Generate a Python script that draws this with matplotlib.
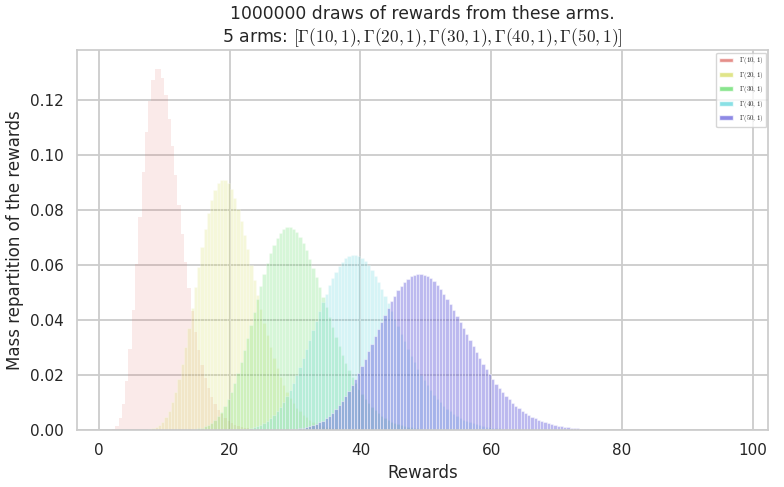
import numpy as np
import matplotlib
matplotlib.use("Agg")
import matplotlib.pyplot as plt
from matplotlib.patches import Patch
import seaborn as sns

# histogram heights (mass per unit reward), bins of width 0.5
BIN_WIDTH = 0.5
labels = [r"$\Gamma(10, 1)$", r"$\Gamma(20, 1)$", r"$\Gamma(30, 1)$",
          r"$\Gamma(40, 1)$", r"$\Gamma(50, 1)$"]
first_bins = [2.0, 7.5, 14.0, 21.5, 28.5]

red_heights = [
    0.00043, 0.00159, 0.00432, 0.00950, 0.01778, 0.02935, 0.04382, 0.06025,
    0.07740, 0.09387, 0.10832, 0.11974, 0.12749, 0.13132, 0.13133, 0.12793,
    0.12171, 0.11333, 0.10349, 0.09282, 0.08192, 0.07121, 0.06105, 0.05169,
    0.04324, 0.03576, 0.02928, 0.02375, 0.01908, 0.01520, 0.01201, 0.00943,
    0.00734, 0.00568, 0.00437, 0.00333, 0.00253, 0.00191, 0.00144, 0.00108,
    0.00080, 0.00060, 0.00044]
yellow_heights = [
    0.00028, 0.00056, 0.00103, 0.00180, 0.00297, 0.00465, 0.00697, 0.01002,
    0.01389, 0.01860, 0.02412, 0.03037, 0.03724, 0.04453, 0.05201, 0.05944,
    0.06655, 0.07309, 0.07886, 0.08363, 0.08731, 0.08977, 0.09100, 0.09099,
    0.08983, 0.08761, 0.08446, 0.08054, 0.07599, 0.07099, 0.06568, 0.06021,
    0.05471, 0.04930, 0.04406, 0.03908, 0.03440, 0.03006, 0.02610, 0.02251,
    0.01929, 0.01643, 0.01390, 0.01170, 0.00979, 0.00815, 0.00675, 0.00556,
    0.00456, 0.00372, 0.00303, 0.00245, 0.00197, 0.00158, 0.00126, 0.00100,
    0.00080, 0.00063, 0.00050, 0.00039, 0.00030]
green_heights = [
    0.00021, 0.00035, 0.00056, 0.00086, 0.00129, 0.00189, 0.00269, 0.00373,
    0.00506, 0.00672, 0.00875, 0.01116, 0.01397, 0.01719, 0.02081, 0.02476,
    0.02903, 0.03355, 0.03823, 0.04297, 0.04770, 0.05229, 0.05665, 0.06068,
    0.06427, 0.06739, 0.06991, 0.07186, 0.07316, 0.07380, 0.07380, 0.07318,
    0.07197, 0.07021, 0.06799, 0.06533, 0.06235, 0.05908, 0.05560, 0.05199,
    0.04830, 0.04461, 0.04095, 0.03736, 0.03390, 0.03060, 0.02746, 0.02452,
    0.02178, 0.01925, 0.01693, 0.01483, 0.01293, 0.01122, 0.00969, 0.00833,
    0.00714, 0.00609, 0.00517, 0.00438, 0.00369, 0.00310, 0.00260, 0.00217,
    0.00180, 0.00149, 0.00123, 0.00101, 0.00083, 0.00068, 0.00055, 0.00045,
    0.00036]
cyan_heights = [
    0.00025, 0.00037, 0.00054, 0.00077, 0.00106, 0.00146, 0.00196, 0.00259,
    0.00337, 0.00433, 0.00548, 0.00684, 0.00843, 0.01027, 0.01234, 0.01466,
    0.01722, 0.02002, 0.02300, 0.02617, 0.02948, 0.03289, 0.03634, 0.03980,
    0.04321, 0.04650, 0.04965, 0.05258, 0.05523, 0.05758, 0.05959, 0.06123,
    0.06246, 0.06330, 0.06369, 0.06369, 0.06329, 0.06251, 0.06137, 0.05989,
    0.05811, 0.05606, 0.05381, 0.05137, 0.04877, 0.04608, 0.04333, 0.04054,
    0.03775, 0.03497, 0.03227, 0.02963, 0.02709, 0.02466, 0.02236, 0.02018,
    0.01816, 0.01626, 0.01452, 0.01291, 0.01143, 0.01009, 0.00887, 0.00777,
    0.00679, 0.00591, 0.00513, 0.00443, 0.00382, 0.00328, 0.00281, 0.00240,
    0.00204, 0.00174, 0.00147, 0.00124, 0.00104, 0.00088, 0.00073, 0.00061,
    0.00051, 0.00042, 0.00035]
blue_heights = [
    0.00016, 0.00023, 0.00031, 0.00043, 0.00058, 0.00078, 0.00103, 0.00134,
    0.00173, 0.00221, 0.00278, 0.00346, 0.00427, 0.00522, 0.00632, 0.00756,
    0.00898, 0.01056, 0.01231, 0.01423, 0.01630, 0.01853, 0.02091, 0.02339,
    0.02598, 0.02864, 0.03135, 0.03407, 0.03679, 0.03945, 0.04202, 0.04448,
    0.04680, 0.04893, 0.05085, 0.05251, 0.05396, 0.05510, 0.05598, 0.05655,
    0.05684, 0.05683, 0.05654, 0.05598, 0.05518, 0.05410, 0.05281, 0.05132,
    0.04962, 0.04780, 0.04582, 0.04375, 0.04159, 0.03938, 0.03714, 0.03489,
    0.03265, 0.03043, 0.02827, 0.02616, 0.02411, 0.02216, 0.02028, 0.01851,
    0.01683, 0.01526, 0.01378, 0.01241, 0.01114, 0.00997, 0.00889, 0.00791,
    0.00702, 0.00620, 0.00547, 0.00481, 0.00422, 0.00369, 0.00321, 0.00280,
    0.00243, 0.00210, 0.00181, 0.00156, 0.00134, 0.00115, 0.00098, 0.00084,
    0.00071, 0.00060, 0.00051, 0.00043, 0.00036, 0.00030]

all_heights = [red_heights, yellow_heights, green_heights, cyan_heights, blue_heights]

sns.set_style("whitegrid")
sns.set_context("notebook")
plt.rcParams["font.family"] = ["DejaVu Sans"]
plt.rcParams["mathtext.fontset"] = "cm"
plt.rcParams["grid.linewidth"] = 1.3

colors = sns.hls_palette(6)[:5]
bar_alpha = [0.13, 0.22, 0.24, 0.24, 0.42]
bar_lw = [0.0, 0.8, 0.8, 0.8, 0.8]

fig = plt.figure(figsize=(7.84, 4.87), dpi=100)
ax = fig.add_axes([0.098, 0.117, 0.882, 0.780])

for i, heights in enumerate(all_heights):
    edges = first_bins[i] + BIN_WIDTH * np.arange(len(heights))
    ax.bar(edges, heights, width=BIN_WIDTH, align="edge", color=colors[i],
           alpha=bar_alpha[i], edgecolor="white", linewidth=bar_lw[i])

handles = [Patch(facecolor=c, alpha=0.7, edgecolor="white", label=l)
           for c, l in zip(colors, labels)]
ax.legend(handles=handles, loc="upper right", fontsize=5.0, frameon=True,
          borderaxespad=0.35)

ax.set_xlim(-3.4, 102.4)
ax.set_ylim(0, 0.1382)
ax.set_xlabel("Rewards")
ax.set_ylabel("Mass repartition of the rewards")
ax.set_title("1000000 draws of rewards from these arms.\n5 arms: "
             r"$[\Gamma(10, 1), \Gamma(20, 1), \Gamma(30, 1), \Gamma(40, 1), \Gamma(50, 1)]$",
             fontsize=12.4)

fig.savefig("out.png", dpi=100)
